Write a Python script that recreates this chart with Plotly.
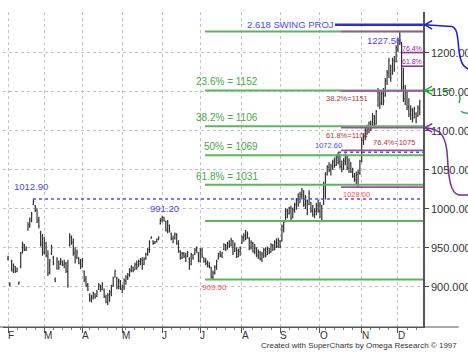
import pandas as pd
import plotly.graph_objects as go

# ---------------- data ----------------
highs = [940, 906, 935, 930, 927, 925, 907, 945, 958, 955,
         952, 983, 989, 996, 1012.9, 1005, 1001, 990, 972, 968,
         964, 958, 947, 936, 954, 940, 912, 938, 934, 937,
         934, 935, 932, 935, 969, 966, 962, 951, 948, 938,
         936, 937, 921, 914, 905, 892, 890, 894, 892, 896,
         905, 903, 906, 898, 890, 892, 896, 903, 913, 922,
         913, 911, 909, 903, 911, 915, 918, 924, 928, 926,
         931, 934, 935, 937, 938, 938, 944, 950, 960, 965,
         960, 959, 962, 965, 988, 991.2, 990, 985, 986, 980,
         970, 966, 970, 969, 960, 947, 945, 945, 944, 946,
         938, 944, 942, 950, 952, 945, 950, 950, 938, 937,
         934, 932, 926, 921, 928, 935, 944, 946, 945, 956,
         955, 958, 960, 963, 960, 957, 951, 949, 952, 966,
         969, 973, 971, 964, 960, 958, 955, 951, 948, 946,
         945, 950, 951, 952, 950, 956, 955, 960, 962, 963,
         960, 980, 985, 1001, 1000, 1003, 1004, 1002, 1008, 1014,
         1020, 1022, 1027, 1024, 1018, 1012, 1024, 1009, 1005, 1001,
         1008, 1012, 1009, 1005, 1035, 1047, 1056, 1060, 1058, 1063,
         1066, 1070, 1072.6, 1071, 1062, 1065, 1071, 1068, 1065, 1060,
         1053, 1046, 1048, 1050, 1063, 1091, 1097, 1104, 1108, 1112,
         1113, 1123, 1120, 1127, 1155, 1150, 1152, 1155, 1168, 1178,
         1194, 1185, 1194, 1196, 1210, 1219, 1227.5, 1214, 1181, 1159,
         1150, 1142, 1133, 1129, 1131, 1124, 1133, 1140]
lows = [934, 901, 920, 918, 918, 919, 903, 924, 943, 946,
        946, 972, 976, 983, 1005, 996, 982, 975, 952, 940,
        942, 938, 914, 916, 941, 928, 906, 922, 922, 928,
        927, 924, 918, 899, 952, 954, 940, 930, 936, 929,
        923, 925, 906, 900, 895, 881, 880, 884, 885, 887,
        896, 894, 896, 886, 879, 877, 881, 888, 900, 912,
        897, 897, 896, 892, 896, 903, 909, 913, 919, 919,
        922, 922, 926, 928, 922, 928, 935, 940, 944, 962,
        954, 955, 957, 960, 980, 983, 984, 971, 969, 970,
        960, 956, 961, 954, 944, 935, 936, 937, 932, 938,
        922, 928, 935, 941, 944, 932, 931, 937, 931, 928,
        925, 924, 911, 909.5, 916, 922, 935, 938, 937, 947,
        946, 948, 950, 952, 941, 945, 937, 938, 940, 955,
        958, 960, 962, 947, 948, 944, 942, 938, 936, 934,
        932, 937, 938, 941, 942, 944, 946, 947, 950, 950,
        950, 958, 970, 983, 988, 993, 986, 988, 995, 999,
        1003, 1008, 1012, 1003, 1000, 992, 1005, 995, 990, 988,
        992, 995, 988, 986, 1005, 1012, 1043, 1047, 1043, 1050,
        1053, 1055, 1057, 1052, 1047, 1050, 1056, 1050, 1046, 1046,
        1040, 1035, 1032, 1028, 1044, 1060, 1082, 1088, 1095, 1097,
        1100, 1104, 1104, 1108, 1131, 1128, 1133, 1133, 1144, 1159,
        1168, 1163, 1172, 1176, 1188, 1201, 1210, 1150, 1137, 1133,
        1127, 1118, 1114, 1111, 1116, 1110, 1118, 1120]
opens = [936, 903, 933, 920, 926, 920, 904, 926, 945, 953,
         948, 974, 978, 985, 1006, 1004, 999, 985, 970, 956,
         944, 956, 940, 918, 943, 938, 910, 924, 932, 929,
         933, 928, 930, 920, 954, 964, 958, 944, 938, 936,
         930, 927, 920, 910, 903, 890, 883, 886, 891, 888,
         897, 902, 897, 896, 887, 880, 889, 893, 902, 913,
         911, 900, 907, 897, 899, 908, 912, 915, 921, 925,
         922, 929, 926, 932, 935, 929, 936, 942, 948, 962,
         958, 956, 958, 961, 981, 986, 989, 984, 972, 979,
         968, 962, 962, 967, 956, 945, 937, 943, 940, 939,
         936, 929, 941, 942, 947, 944, 933, 947, 937, 933,
         930, 927, 925, 912, 918, 925, 936, 942, 940, 948,
         954, 949, 955, 953, 959, 946, 950, 939, 945, 956,
         963, 966, 963, 962, 950, 956, 946, 949, 941, 944,
         936, 941, 947, 941, 949, 945, 953, 949, 957, 952,
         959, 960, 977, 984, 997, 994, 1001, 989, 998, 1005,
         1011, 1008, 1018, 1023, 1005, 1011, 1006, 1008, 997, 992,
         997, 1004, 997, 1004, 1006, 1030, 1045, 1053, 1050, 1054,
         1060, 1056, 1067, 1061, 1054, 1051, 1061, 1066, 1052, 1059,
         1048, 1042, 1037, 1044, 1046, 1062, 1088, 1093, 1100, 1103,
         1109, 1104, 1119, 1109, 1132, 1149, 1136, 1147, 1145, 1164,
         1174, 1184, 1173, 1190, 1189, 1205, 1215, 1212, 1157, 1141,
         1149, 1131, 1122, 1127, 1117, 1122, 1119, 1128]
closes = [938, 904, 922, 928, 920, 924, 906, 943, 955, 948,
          950, 980, 987, 994, 1010, 998, 984, 978, 955, 945,
          960, 940, 918, 934, 950, 930, 908, 936, 925, 935,
          929, 932, 920, 902, 966, 957, 943, 933, 945, 931,
          926, 934, 908, 902, 897, 884, 887, 892, 887, 894,
          903, 896, 904, 888, 881, 890, 894, 901, 911, 920,
          899, 909, 898, 900, 909, 913, 916, 922, 926, 921,
          929, 925, 933, 935, 925, 936, 942, 948, 958, 964,
          956, 958, 961, 964, 986, 989, 985, 973, 983, 972,
          962, 958, 968, 956, 946, 937, 943, 939, 934, 944,
          924, 942, 937, 948, 950, 934, 947, 940, 933, 930,
          927, 926, 913, 918, 926, 933, 942, 940, 943, 954,
          948, 956, 952, 960, 943, 955, 939, 946, 950, 964,
          966, 962, 968, 949, 957, 946, 950, 940, 945, 936,
          942, 948, 940, 950, 944, 954, 948, 958, 952, 960,
          952, 978, 983, 998, 991, 1001, 988, 999, 1006, 1012,
          1006, 1019, 1024, 1006, 1015, 995, 1020, 998, 993, 998,
          1005, 998, 1006, 990, 1033, 1044, 1054, 1050, 1055, 1061,
          1056, 1068, 1060, 1055, 1050, 1062, 1066, 1053, 1062, 1048,
          1042, 1038, 1045, 1047, 1061, 1088, 1094, 1101, 1104, 1110,
          1103, 1120, 1108, 1125, 1150, 1135, 1148, 1138, 1165, 1175,
          1190, 1168, 1191, 1180, 1207, 1216, 1222, 1155, 1140, 1152,
          1130, 1121, 1128, 1115, 1128, 1112, 1130, 1137]

dates = pd.bdate_range("1997-02-03", periods=len(highs))
month_letters = ["F", "M", "A", "M", "J", "J", "A", "S", "O", "N", "D"]
y_ticks = [900, 950, 1000, 1050, 1100, 1150, 1200]

# Fibonacci retracement levels (909.50 -> 1227.50)
green_levels = [1227.5, 1152, 1106, 1069, 1031, 984.5, 909.5]
green_labels = ["", "23.6% = 1152", "38.2% = 1106", "50% = 1069", "61.8% = 1031", "", ""]
# Second retracement (1028.00 -> 1227.50)
purple_levels = [1227.5, 1151.3, 1104.2, 1075.1, 1028.0]
purple_labels = ["", "38.2%=1151", "61.8%=1104", "76.4%=1075", "1028.00"]
# retracement of the last drop
short_levels = [1200.5, 1183.0]
short_labels = ["76.4%", "61.8%"]
blue_dotted = [1012.9, 1072.6]
proj_level = 1236.0

# ---------------- figure ----------------
idx = list(range(len(highs)))
month_idx = [i for i in idx if i == 0 or dates[i].month != dates[i - 1].month]

X_MIN, X_MAX = -2.76, 228.8
Y_MIN, Y_MAX = 848.7, 1252.5
FONT = "Arial, Liberation Sans, sans-serif"

fig = go.Figure()
fig.add_trace(go.Ohlc(
    x=idx, open=opens, high=highs, low=lows, close=closes,
    increasing=dict(line=dict(color="#333333", width=1.2)),
    decreasing=dict(line=dict(color="#333333", width=1.2)),
    tickwidth=0.45, hoverinfo="skip"))

shapes = []
annos = []

GREEN = "#5fb45f"
PURPLE = "#a64aa6"
BLUE = "#4a4aff"

G_START = 108.6
for lv, lb in zip(green_levels, green_labels):
    shapes.append(dict(type="line", xref="x", yref="y", x0=G_START, x1=X_MAX, y0=lv, y1=lv,
                       line=dict(color=GREEN, width=2), layer="above"))
    if lb:
        annos.append(dict(x=137.8, y=lv, xref="x", yref="y", text=lb, showarrow=False,
                          xanchor="right", yanchor="bottom", yshift=1, xshift=2,
                          font=dict(family=FONT, size=10, color="#4aa64a")))

P_START = 183.6
for lv in purple_levels:
    shapes.append(dict(type="line", xref="x", yref="y", x0=P_START, x1=X_MAX, y0=lv, y1=lv,
                       line=dict(color=PURPLE, width=1.6), layer="above"))
# dark red labels
annos.append(dict(x=174.2, y=purple_levels[1], text=purple_labels[1], xanchor="left", yanchor="top", yshift=-1))
annos.append(dict(x=174.2, y=purple_levels[2], text=purple_labels[2], xanchor="left", yanchor="top", yshift=-1))
annos.append(dict(x=200.1, y=purple_levels[3], text=purple_labels[3], xanchor="left", yanchor="bottom", yshift=1))
for a in annos[-3:]:
    a.update(xref="x", yref="y", showarrow=False, font=dict(family=FONT, size=7.5, color="#a33a3a"))
annos.append(dict(x=192.1, y=purple_levels[4], xref="x", yref="y", text=purple_labels[4], showarrow=False,
                  xanchor="center", yanchor="top", yshift=-1, font=dict(family=FONT, size=7.5, color="#ff4a4a")))
annos.append(dict(x=113.6, y=909.5, xref="x", yref="y", text="909.50", showarrow=False,
                  xanchor="center", yanchor="top", yshift=-1, font=dict(family=FONT, size=8, color="#ff4a4a")))

S_START = 217.2
for lv, lb in zip(short_levels, short_labels):
    shapes.append(dict(type="line", xref="x", yref="y", x0=S_START, x1=X_MAX, y0=lv, y1=lv,
                       line=dict(color="#9a2a9a", width=1.6), layer="above"))
    annos.append(dict(x=223.0, y=lv, xref="x", yref="y", text=lb, showarrow=False,
                      xanchor="center", yanchor="bottom", yshift=-1,
                      font=dict(family=FONT, size=7, color="#a020a0")))

# blue dotted
shapes.append(dict(type="line", xref="x", yref="y", x0=13.8, x1=X_MAX, y0=blue_dotted[0], y1=blue_dotted[0],
                   line=dict(color=BLUE, width=1.5, dash="dot"), layer="above"))
shapes.append(dict(type="line", xref="x", yref="y", x0=182.0, x1=X_MAX, y0=blue_dotted[1], y1=blue_dotted[1],
                   line=dict(color=BLUE, width=1.5, dash="dot"), layer="above"))
annos.append(dict(x=12.7, y=blue_dotted[0], text="1012.90", xanchor="center", yanchor="bottom", yshift=5,
                  font=dict(family=FONT, size=9.5, color=BLUE)))
annos.append(dict(x=86.5, y=991.2, text="991.20", xanchor="center", yanchor="bottom", yshift=0,
                  font=dict(family=FONT, size=9.5, color=BLUE)))
annos.append(dict(x=207.3, y=1227.5, text="1227.50", xanchor="center", yanchor="top", yshift=-1,
                  font=dict(family=FONT, size=9.5, color=BLUE)))
annos.append(dict(x=176.7, y=blue_dotted[1], text="1072.60", xanchor="center", yanchor="bottom", yshift=0,
                  font=dict(family=FONT, size=7.5, color=BLUE)))
annos.append(dict(x=179.7, y=proj_level, text="2.618 SWING PROJ", xanchor="right", yanchor="middle", xshift=2,
                  font=dict(family=FONT, size=9.5, color=BLUE)))
for a in annos[-5:]:
    a.update(xref="x", yref="y", showarrow=False)

# projection line
shapes.append(dict(type="line", xref="x", yref="y", x0=180.3, x1=X_MAX, y0=proj_level, y1=proj_level,
                   line=dict(color="#2a2aee", width=2.5), layer="above"))


def path(points):
    out = ["M %f,%f" % points[0]]
    for seg in points[1:]:
        if seg[0] == "L":
            out.append("L %f,%f" % seg[1])
        else:
            out.append("C %f,%f %f,%f %f,%f" % (seg[1] + seg[2] + seg[3]))
    return " ".join(out)


# hand-drawn arrows to the right of the price axis
blue_arrow = path([(1.004, proj_level), ("L", (1.068, proj_level - 2)),
                   ("C", (1.086, 1232), (1.082, 1212), (1.087, 1198)),
                   ("C", (1.092, 1184), (1.100, 1179), (1.12, 1178))])
green_arrow = path([(1.004, 1152), ("L", (1.072, 1152)),
                    ("C", (1.088, 1152), (1.090, 1143), (1.086, 1136)),
                    ("C", (1.080, 1128), (1.086, 1122), (1.12, 1122))])
purple_arrow = path([(1.004, 1104), ("C", (1.045, 1103), (1.055, 1092), (1.058, 1068)),
                     ("C", (1.061, 1038), (1.066, 1020), (1.085, 1018)),
                     ("L", (1.12, 1018))])
shapes.append(dict(type="path", xref="paper", yref="y", path=blue_arrow, line=dict(color="#1a1ae0", width=1.5)))
shapes.append(dict(type="path", xref="paper", yref="y", path=green_arrow,
                   line=dict(color="#20b040", width=1.5, dash="dash")))
shapes.append(dict(type="path", xref="paper", yref="y", path=purple_arrow, line=dict(color="#7a2aa0", width=1.5)))
for lv, col in [(proj_level, "#1a1ae0"), (1152, "#20b040"), (1104, "#7a2aa0")]:
    shapes.append(dict(type="path", xref="paper", yref="y",
                       path="M 1.022,%f L 1.004,%f L 1.022,%f" % (lv + 5.5, lv, lv - 5.5),
                       line=dict(color=col, width=1.5)))

# x-axis line extension to the right
shapes.append(dict(type="line", xref="paper", yref="paper", x0=-0.01, x1=1.085, y0=0, y1=0,
                   line=dict(color="#555555", width=1)))

for mi, ml in zip(month_idx, month_letters):
    annos.append(dict(x=mi, y=0, xref="x", yref="paper", text=ml, showarrow=False,
                      xanchor="left", yanchor="top", xshift=-2, yshift=-1,
                      font=dict(family=FONT, size=10, color="#333333")))

annos.append(dict(x=1.086, y=-0.058, xref="paper", yref="paper",
                  text="Created with SuperCharts by Omega Research \u00a9 1997", showarrow=False,
                  xanchor="right", yanchor="middle", font=dict(family=FONT, size=8, color="#333333")))

fig.update_layout(
    width=468, height=360,
    margin=dict(l=3, r=45, t=12, b=33),
    plot_bgcolor="white", paper_bgcolor="white",
    showlegend=False,
    shapes=shapes, annotations=annos,
    xaxis=dict(range=[X_MIN, X_MAX], tickvals=month_idx, showticklabels=False,
               ticks="outside", ticklen=5, tickcolor="#555555", automargin=False,
               showgrid=True, gridcolor="#c4c4c4", griddash="dot", gridwidth=1,
               showline=True, linecolor="#555555", zeroline=False,
               rangeslider=dict(visible=False),
               minor=dict(tick0=0, dtick=5, ticks="outside", ticklen=2, tickcolor="#777777", showgrid=False)),
    yaxis=dict(side="right", range=[Y_MIN, Y_MAX], tickvals=y_ticks, tickformat=".4f",
               ticks="outside", ticklen=4, tickcolor="#444444", automargin=False,
               tickfont=dict(family=FONT, size=11, color="#333333"),
               showgrid=True, gridcolor="#c4c4c4", griddash="dot", gridwidth=1,
               showline=True, linecolor="#555555", linewidth=1.5, zeroline=False),
)

fig.write_html("out.html", config={"displayModeBar": False},
               post_script="document.body.style.margin='0';")
